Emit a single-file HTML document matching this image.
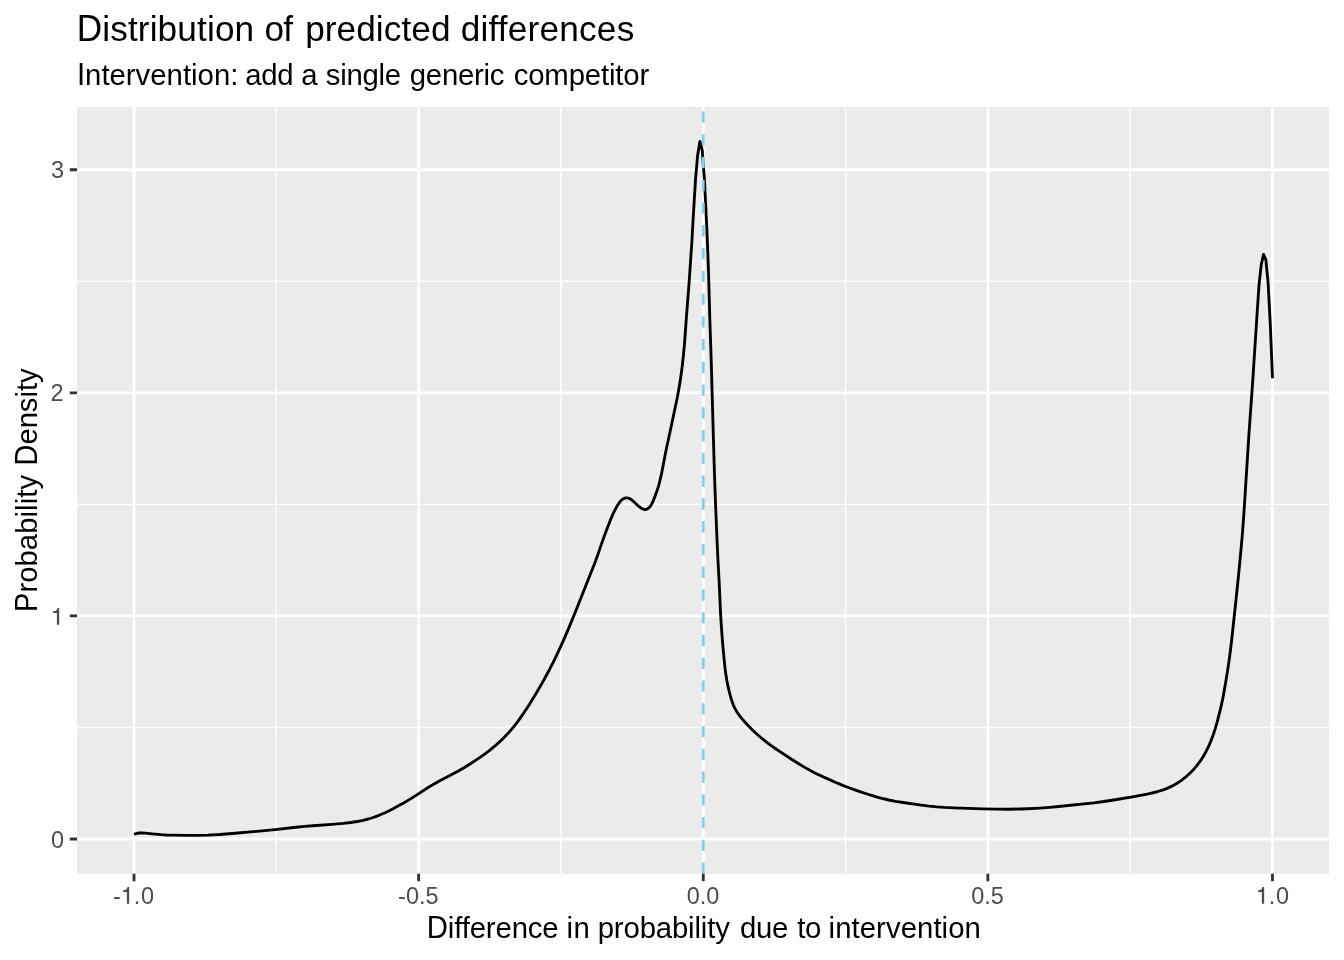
<!DOCTYPE html>
<html><head><meta charset="utf-8"><title>Distribution of predicted differences</title>
<style>
html,body{margin:0;padding:0;background:#fff;}
svg{display:block;will-change:transform;}
text{font-family:"Liberation Sans",sans-serif;}
.tk{font-size:23.47px;fill:#4D4D4D;}
.ax{font-size:29.33px;fill:#000;}
.tt{font-size:35.2px;fill:#000;}
</style></head><body>
<svg width="1344" height="960" viewBox="0 0 1344 960">
<rect x="0" y="0" width="1344" height="960" fill="#FFFFFF"/>
<rect x="77" y="107" width="1252" height="767" fill="#EBEBEB"/>
<path d="M77.1,727.45H1329.4M77.1,504.35H1329.4M77.1,281.25H1329.4M276.33,107.0V873.85M560.94,107.0V873.85M845.56,107.0V873.85M1130.17,107.0V873.85" stroke="#FFFFFF" stroke-width="1.425" fill="none"/>
<path d="M77.1,839.00H1329.4M77.1,615.90H1329.4M77.1,392.80H1329.4M77.1,169.70H1329.4M134.02,107.0V873.85M418.64,107.0V873.85M703.25,107.0V873.85M987.86,107.0V873.85M1272.48,107.0V873.85" stroke="#FFFFFF" stroke-width="2.85" fill="none"/>
<path d="M134.00,834.10 L136.43,833.51 L137.90,833.22 L139.89,832.99 L142.38,832.90 L145.38,833.07 L154.82,834.11 L161.29,834.69 L166.28,835.02 L171.28,835.19 L188.28,835.43 L196.78,835.41 L207.77,835.10 L219.75,834.46 L235.20,833.28 L262.09,830.85 L275.03,829.56 L295.90,827.26 L304.86,826.37 L312.83,825.73 L331.78,824.43 L343.23,823.40 L350.68,822.52 L357.09,821.53 L362.96,820.35 L368.27,819.00 L371.61,817.99 L374.92,816.87 L378.18,815.63 L381.41,814.30 L385.06,812.68 L388.67,810.96 L392.68,808.94 L397.10,806.61 L403.65,802.96 L410.52,798.87 L416.44,795.14 L427.75,787.77 L433.71,784.13 L439.82,780.73 L451.78,774.48 L457.94,771.16 L464.02,767.69 L469.99,764.05 L476.68,759.67 L483.64,754.80 L489.63,750.30 L494.67,746.21 L499.53,741.90 L502.06,739.50 L504.54,737.03 L508.98,732.30 L513.20,727.37 L515.68,724.25 L518.09,721.05 L520.71,717.40 L523.54,713.28 L526.58,708.70 L529.83,703.66 L533.01,698.57 L536.37,693.01 L542.39,682.63 L547.92,672.55 L553.18,662.33 L558.19,651.98 L561.32,645.16 L564.35,638.30 L568.08,629.57 L572.51,618.96 L576.46,609.23 L585.27,586.90 L592.72,568.34 L594.90,562.75 L596.81,557.60 L601.68,543.41 L604.88,534.47 L607.52,527.45 L610.44,520.00 L612.18,515.85 L613.63,512.67 L615.42,509.09 L617.13,506.04 L618.20,504.35 L619.91,501.89 L620.85,500.71 L621.91,499.65 L623.15,498.82 L624.53,498.23 L625.99,497.93 L626.99,497.92 L627.98,498.08 L628.93,498.39 L630.29,499.02 L631.56,499.81 L632.72,500.76 L638.58,506.21 L640.17,507.42 L641.84,508.52 L643.19,509.16 L644.65,509.50 L645.65,509.51 L646.61,509.28 L647.07,509.07 L647.93,508.56 L648.71,507.94 L649.44,507.26 L650.42,506.12 L651.73,503.99 L652.85,501.76 L653.62,499.91 L656.91,491.00 L657.87,488.16 L658.72,485.28 L659.62,481.90 L661.43,474.11 L662.42,469.21 L666.10,450.06 L670.12,431.49 L677.24,397.73 L678.62,390.36 L679.94,382.47 L681.19,374.06 L682.23,366.13 L683.43,355.20 L684.58,342.75 L686.26,319.31 L688.97,284.42 L691.67,245.01 L693.28,216.06 L695.51,179.62 L697.64,155.22 L699.35,144.86 L699.75,141.88 L699.96,141.55 L702.08,149.26 L702.37,151.74 L702.69,156.73 L704.43,179.67 L706.81,228.11 L707.81,252.59 L708.51,272.07 L709.80,318.56 L711.24,361.53 L712.42,404.02 L714.35,469.99 L714.90,486.48 L715.89,512.46 L717.32,546.43 L718.03,561.41 L719.18,582.38 L720.43,610.85 L721.14,622.83 L722.05,635.80 L723.00,647.26 L724.34,661.70 L725.16,669.15 L725.96,675.10 L726.95,681.01 L728.04,686.40 L729.18,691.27 L730.43,696.11 L731.39,699.48 L732.32,702.33 L733.40,705.12 L734.44,707.39 L735.59,709.61 L737.12,712.18 L738.78,714.67 L740.27,716.68 L742.51,719.37 L745.51,722.72 L749.28,726.72 L752.44,729.92 L755.70,733.02 L759.04,736.02 L762.86,739.24 L767.16,742.66 L771.16,745.65 L775.25,748.52 L781.48,752.69 L791.14,758.93 L798.32,763.48 L803.86,766.86 L807.32,768.87 L810.82,770.80 L814.36,772.64 L817.94,774.41 L822.47,776.52 L828.85,779.40 L835.26,782.21 L840.32,784.35 L844.96,786.22 L849.63,788.00 L854.80,789.86 L860.48,791.81 L867.12,794.00 L872.36,795.66 L877.16,797.08 L881.98,798.38 L888.78,799.99 L895.65,801.31 L903.05,802.49 L921.35,805.17 L929.29,806.16 L936.75,806.88 L944.72,807.45 L953.71,807.88 L982.70,808.81 L996.19,809.14 L1008.19,809.22 L1020.19,808.99 L1027.68,808.72 L1035.67,808.33 L1043.15,807.87 L1049.63,807.38 L1058.59,806.54 L1093.89,802.80 L1103.81,801.50 L1115.17,799.72 L1135.38,796.29 L1141.77,795.12 L1147.16,794.05 L1150.58,793.30 L1154.96,792.26 L1157.86,791.50 L1160.74,790.66 L1163.11,789.87 L1165.92,788.82 L1168.68,787.66 L1170.95,786.62 L1173.18,785.49 L1175.37,784.29 L1177.51,782.99 L1180.00,781.33 L1182.43,779.57 L1184.79,777.72 L1187.08,775.79 L1189.31,773.78 L1191.10,772.04 L1192.84,770.24 L1194.51,768.39 L1196.43,766.09 L1198.29,763.73 L1200.07,761.32 L1201.77,758.85 L1203.11,756.74 L1204.38,754.59 L1205.82,751.96 L1208.49,746.59 L1210.87,741.08 L1213.17,735.01 L1215.20,728.83 L1217.27,721.62 L1220.00,710.97 L1221.93,702.69 L1223.49,694.85 L1225.41,684.01 L1227.35,672.17 L1228.99,661.30 L1230.31,651.38 L1231.73,639.47 L1236.07,599.20 L1237.86,581.79 L1240.22,557.91 L1241.34,545.96 L1242.24,535.50 L1243.21,523.04 L1244.18,509.07 L1248.79,436.22 L1252.97,377.37 L1256.65,320.49 L1258.95,286.06 L1259.31,282.08 L1261.15,265.68 L1261.45,263.71 L1263.01,256.88 L1263.36,254.91 L1263.52,254.45 L1263.79,254.75 L1264.13,255.70 L1265.73,259.36 L1265.94,260.34 L1266.05,261.33 L1266.37,265.32 L1267.91,280.74 L1268.20,284.73 L1270.27,323.67 L1272.48,378.30" stroke="#000000" stroke-width="2.85" stroke-linejoin="round" stroke-linecap="butt" fill="none"/>
<path d="M703.25,873.85V107.0" stroke="#87CEEB" stroke-width="2.85" stroke-dasharray="11.38 11.38" fill="none"/>
<path d="M69.80,839.00H77.1M69.80,615.90H77.1M69.80,392.80H77.1M69.80,169.70H77.1M134.02,873.85V881.15M418.64,873.85V881.15M703.25,873.85V881.15M987.86,873.85V881.15M1272.48,873.85V881.15" stroke="#333333" stroke-width="2.85" fill="none"/>
<text class="tk" transform="translate(50.90,847.8) scale(1,1.04)">0</text>
<text class="tk" transform="translate(50.45,400.9) scale(1,1.04)">2</text>
<text class="tk" transform="translate(50.90,177.75) scale(1,1.04)">3</text>
<path fill="#4D4D4D" d="M56.90,624.80V612.95H53.05V611.35C55.95,611.00 56.80,610.35 57.60,607.95H59.20V624.80Z"/>
<text class="tk" transform="translate(418.34,903.85) scale(1,1.04)" text-anchor="middle">-0.5</text>
<text class="tk" transform="translate(702.95,903.85) scale(1,1.04)" text-anchor="middle">0.0</text>
<text class="tk" transform="translate(987.56,903.85) scale(1,1.04)" text-anchor="middle">0.5</text>
<text class="tk" transform="translate(112.96,903.85) scale(1,1.04)">-</text>
<path fill="#4D4D4D" d="M126.90,903.85V892.00H123.05V890.40C125.95,890.05 126.80,889.40 127.60,887.00H129.20V903.85Z"/>
<text class="tk" transform="translate(133.65,903.85) scale(1,1.04)">.</text>
<text class="tk" transform="translate(141.10,903.85) scale(1,1.04)">0</text>
<path fill="#4D4D4D" d="M1261.85,903.85V892.00H1258.00V890.40C1260.90,890.05 1261.75,889.40 1262.55,887.00H1264.15V903.85Z"/>
<text class="tk" transform="translate(1268.75,903.85) scale(1,1.04)">.</text>
<text class="tk" transform="translate(1276.10,903.85) scale(1,1.04)">0</text>
<text class="tt" transform="translate(76.70,40.7) scale(1,1.06)">D</text>
<text class="tt" x="102.24" y="40.7" letter-spacing="0.132">istribution</text>
<text class="tt" x="264.40" y="40.7" letter-spacing="-0.600">of</text>
<text class="tt" x="305.15" y="40.7" letter-spacing="0.069">predicted</text>
<text class="tt" x="460.70" y="40.7" letter-spacing="0.205">differences</text>
<text class="ax" transform="translate(76.95,84.5) scale(1,1.06)">I</text>
<text class="ax" x="85.09" y="84.5" letter-spacing="0.000">ntervention:</text>
<text class="ax" x="245.25" y="84.5" letter-spacing="-0.325">add</text>
<text class="ax" x="301.35" y="84.5" letter-spacing="0.000">a</text>
<text class="ax" x="325.80" y="84.5" letter-spacing="-0.290">single</text>
<text class="ax" x="409.85" y="84.5" letter-spacing="-0.283">generic</text>
<text class="ax" x="513.65" y="84.5" letter-spacing="-0.139">competitor</text>
<text class="ax" transform="translate(426.80,937.8) scale(1,1.06)">D</text>
<text class="ax" x="447.83" y="937.8" letter-spacing="-0.139">ifference</text>
<text class="ax" x="566.40" y="937.8" letter-spacing="0.500">in</text>
<text class="ax" x="597.70" y="937.8" letter-spacing="-0.150">probability</text>
<text class="ax" x="740.05" y="937.8" letter-spacing="-0.350">due</text>
<text class="ax" x="797.30" y="937.8" letter-spacing="-0.450">to</text>
<text class="ax" x="828.60" y="937.8" letter-spacing="0.059">intervention</text>
<text class="ax" transform="translate(37.1,609.7) rotate(-90) translate(-2.50,0) scale(1,1.06)">P</text>
<text class="ax" transform="translate(37.1,609.7) rotate(-90)" x="17.08" y="0" letter-spacing="0.035">robability</text>
<text class="ax" transform="translate(37.1,463.2) rotate(-90) translate(-2.50,0) scale(1,1.06)">D</text>
<text class="ax" transform="translate(37.1,463.2) rotate(-90)" x="18.60" y="0" letter-spacing="-0.075">ensity</text>
</svg></body></html>
